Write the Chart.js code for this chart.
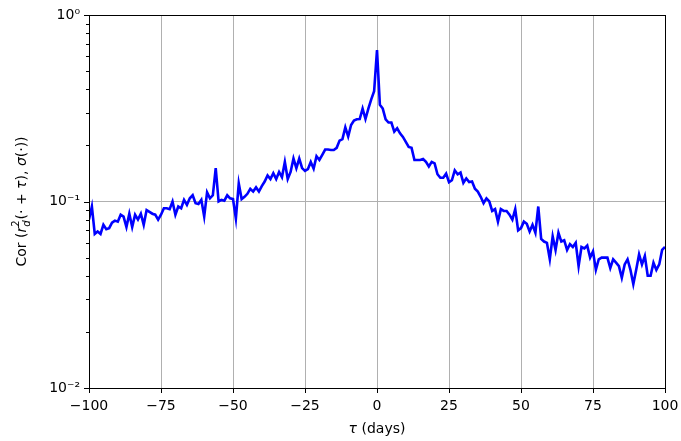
<!DOCTYPE html>
<html>
<head>
<meta charset="utf-8">
<script src="https://cdn.jsdelivr.net/npm/chart.js@4"></script>
<style>
  html, body { margin: 0; padding: 0; background: #fff; }
  #wrap { width: 681px; height: 441px; }
</style>
</head>
<body>
<div id="wrap"><canvas id="chart" width="681" height="441"></canvas></div>
<script>
// lag in days, one point per day
const lags = Array.from({ length: 201 }, (_, i) => i - 100);

// correlation values, tau = -100 .. 100
const corr = [
  0.080, 0.094, 0.067, 0.069, 0.067, 0.075, 0.071, 0.072, 0.077, 0.079,
  0.078, 0.085, 0.083, 0.073, 0.086, 0.073, 0.085, 0.080, 0.086, 0.075,
  0.090, 0.088, 0.086, 0.085, 0.080, 0.085, 0.092, 0.092, 0.091, 0.100,
  0.085, 0.094, 0.092, 0.102, 0.096, 0.104, 0.108, 0.098, 0.097, 0.102,
  0.083, 0.112, 0.104, 0.108, 0.151, 0.100, 0.102, 0.101, 0.108, 0.104,
  0.103, 0.081, 0.125, 0.103, 0.106, 0.110, 0.117, 0.113, 0.119, 0.113,
  0.121, 0.128, 0.138, 0.132, 0.142, 0.132, 0.144, 0.135, 0.163, 0.132,
  0.144, 0.170, 0.151, 0.170, 0.151, 0.146, 0.149, 0.163, 0.150, 0.175,
  0.167, 0.178, 0.190, 0.190, 0.189, 0.189, 0.194, 0.212, 0.216, 0.250,
  0.223, 0.257, 0.272, 0.276, 0.277, 0.315, 0.277, 0.315, 0.353, 0.390,
  0.649,
  0.330, 0.315, 0.276, 0.265, 0.265, 0.237, 0.247, 0.232, 0.222, 0.209,
  0.196, 0.194, 0.167, 0.167, 0.167, 0.169, 0.163, 0.154, 0.163, 0.160,
  0.140, 0.134, 0.134, 0.141, 0.127, 0.130, 0.147, 0.140, 0.143, 0.126,
  0.133, 0.127, 0.128, 0.117, 0.113, 0.106, 0.098, 0.104, 0.100, 0.089,
  0.091, 0.078, 0.091, 0.089, 0.089, 0.085, 0.080, 0.091, 0.070, 0.072,
  0.078, 0.076, 0.069, 0.075, 0.068, 0.094, 0.063, 0.061, 0.060, 0.049,
  0.065, 0.055, 0.068, 0.061, 0.062, 0.055, 0.059, 0.057, 0.060, 0.045,
  0.057, 0.056, 0.058, 0.050, 0.054, 0.043, 0.049, 0.050, 0.050, 0.050,
  0.044, 0.049, 0.047, 0.045, 0.039, 0.046, 0.049, 0.043, 0.036, 0.043,
  0.052, 0.046, 0.051, 0.040, 0.040, 0.047, 0.043, 0.046, 0.055, 0.057
];

const xTicks = [-100, -75, -50, -25, 0, 25, 50, 75, 100];
const yMajor = [0.01, 0.1, 1];
const yMajorLabels = ["10⁻²", "10⁻¹", "10⁰"];

const FONT = '"DejaVu Sans", sans-serif';
const GRID = "#b0b0b0";

// y ticks for the log axis: decades plus 2..9 minors
function logTicks() {
  const out = [];
  for (let e = -2; e < 0; e++) {
    for (let m = 1; m < 10; m++) out.push({ value: m * Math.pow(10, e) });
  }
  out.push({ value: 1 });
  return out;
}

function isMajor(v) {
  return yMajor.some(m => Math.abs(v - m) < 1e-9);
}

// frame, tick marks and axis titles (matplotlib style)
const framePlugin = {
  id: "frame",
  afterDraw(chart) {
    const { ctx, chartArea: a, scales } = chart;
    ctx.save();
    ctx.strokeStyle = "#000";
    ctx.lineWidth = 1;

    // ticks
    ctx.beginPath();
    xTicks.forEach(v => {
      const px = Math.round(scales.x.getPixelForValue(v)) + 0.5;
      ctx.moveTo(px, a.bottom);
      ctx.lineTo(px, a.bottom + 5);
    });
    logTicks().forEach(t => {
      const py = Math.round(scales.y.getPixelForValue(t.value)) + 0.5;
      const len = isMajor(t.value) ? 5 : 3;
      ctx.moveTo(a.left, py);
      ctx.lineTo(a.left - len, py);
    });
    ctx.stroke();

    ctx.strokeRect(Math.round(a.left) + 0.5, Math.round(a.top) + 0.5,
      Math.round(a.right - a.left), Math.round(a.bottom - a.top));

    // x title
    ctx.fillStyle = "#000";
    ctx.textBaseline = "middle";
    const xc = (a.left + a.right) / 2;
    const xParts = [
      { t: "τ", f: "italic 14px " + FONT },
      { t: " (days)", f: "14px " + FONT }
    ];
    drawParts(ctx, xParts, xc, 429);

    // y title, rotated
    ctx.translate(22, (a.top + a.bottom) / 2);
    ctx.rotate(-Math.PI / 2);
    const yParts = [
      { t: "Cor (", f: "14px " + FONT },
      { t: "r", f: "italic 14px " + FONT },
      { sup: "2", sub: "d" },
      { t: "(· + ", f: "14px " + FONT },
      { t: "τ", f: "italic 14px " + FONT },
      { t: "), ", f: "14px " + FONT },
      { t: "σ", f: "italic 14px " + FONT },
      { t: "(·))", f: "14px " + FONT }
    ];
    drawParts(ctx, yParts, 0, 0);
    ctx.restore();
  }
};

function partWidth(ctx, p) {
  if (p.sup) {
    ctx.font = "10px " + FONT;
    const w1 = ctx.measureText(p.sup).width;
    ctx.font = "italic 10px " + FONT;
    const w2 = ctx.measureText(p.sub).width;
    return Math.max(w1, w2) + 1;
  }
  ctx.font = p.f;
  return ctx.measureText(p.t).width;
}

function drawParts(ctx, parts, cx, cy) {
  const total = parts.reduce((s, p) => s + partWidth(ctx, p), 0);
  let x = cx - total / 2;
  ctx.textAlign = "left";
  parts.forEach(p => {
    const w = partWidth(ctx, p);
    if (p.sup) {
      ctx.font = "10px " + FONT;
      ctx.fillText(p.sup, x, cy - 6);
      ctx.font = "italic 10px " + FONT;
      ctx.fillText(p.sub, x, cy + 5);
    } else {
      ctx.font = p.f;
      ctx.fillText(p.t, x, cy);
    }
    x += w;
  });
}

new Chart(document.getElementById("chart"), {
  type: "line",
  data: {
    labels: lags,
    datasets: [{
      data: lags.map((t, i) => ({ x: t, y: corr[i] })),
      borderColor: "#0000ff",
      borderWidth: 2.6,
      pointRadius: 0,
      tension: 0,
      fill: false
    }]
  },
  options: {
    responsive: false,
    animation: false,
    events: [],
    layout: { padding: { left: 0, top: 15, right: 16, bottom: 0 } },
    plugins: {
      legend: { display: false },
      title: { display: false },
      tooltip: { enabled: false }
    },
    scales: {
      x: {
        type: "linear",
        min: -100,
        max: 100,
        afterBuildTicks: scale => { scale.ticks = xTicks.map(v => ({ value: v })); },
        afterFit: scale => {
          scale.height = 53;
          scale.paddingLeft = 0;
          scale.paddingRight = 0;
        },
        ticks: {
          autoSkip: false,
          maxRotation: 0,
          padding: 10,
          color: "#000",
          font: { family: FONT, size: 14 },
          callback: v => (v < 0 ? "−" + Math.abs(v) : String(v))
        },
        grid: {
          drawTicks: false,
          lineWidth: 1,
          color: c => (c.tick && (c.tick.value === -100 || c.tick.value === 100) ? "rgba(0,0,0,0)" : GRID)
        },
        border: { display: false }
      },
      y: {
        type: "logarithmic",
        min: 0.01,
        max: 1,
        afterBuildTicks: scale => { scale.ticks = logTicks(); },
        afterFit: scale => {
          scale.width = 89;
          scale.paddingTop = 0;
          scale.paddingBottom = 0;
        },
        ticks: {
          autoSkip: false,
          padding: 9,
          color: "#000",
          font: { family: FONT, size: 14 },
          callback: v => {
            const i = yMajor.findIndex(m => Math.abs(v - m) < 1e-9);
            return i >= 0 ? yMajorLabels[i] : "";
          }
        },
        grid: {
          drawTicks: false,
          lineWidth: 1,
          color: c => (c.tick && Math.abs(c.tick.value - 0.1) < 1e-9 ? GRID : "rgba(0,0,0,0)")
        },
        border: { display: false }
      }
    }
  },
  plugins: [framePlugin]
});
</script>
</body>
</html>
